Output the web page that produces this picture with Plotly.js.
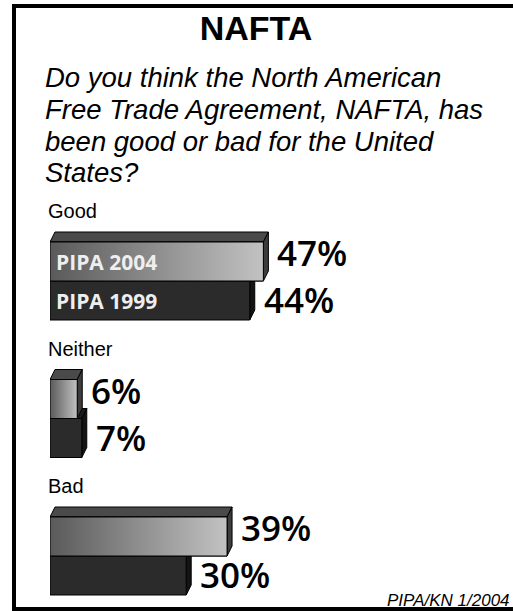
<!DOCTYPE html>
<html><head><meta charset="utf-8">
<script src="https://cdn.plot.ly/plotly-3.0.1.min.js"></script>
<style>html,body{margin:0;padding:0;background:#fff;overflow:hidden}#chart{width:513px;height:611px}</style>
</head><body><div id="chart"></div>
<script>
// ---- data ----
const categories = ['Good', 'Neither', 'Bad'];
const seriesNames = ['PIPA 2004', 'PIPA 1999'];
const pipa2004 = [47, 6, 39];
const pipa1999 = [44, 7, 30];
const labels2004 = ['47%', '6%', '39%'];
const labels1999 = ['44%', '7%', '30%'];
const titleText = 'NAFTA';
const questionLines = ['Do you think the North American', 'Free Trade Agreement, NAFTA, has', 'been good or bad for the United', 'States?'];
const sourceText = 'PIPA/KN 1/2004';

// ---- geometry / style ----
const W = 513, H = 611, mL = 50, mR = 8, mT = 195, mB = 11;
const plotW = W - mL - mR, plotH = H - mT - mB;
const pxPerPct = 4.54, pxPerCat = 137.5;
const xMax = plotW / pxPerPct;
const yTopVal = -(281 - mT) / pxPerCat;
const yBotVal = yTopVal + plotH / pxPerCat;
const barW = 39 / pxPerCat;
const dX = 5 / pxPerPct, dY = 10 / pxPerCat;
const pos = categories.map((c, i) => i);
const px2paperX = p => (p - mL) / plotW;
const px2paperY = p => (H - mB - p) / plotH;

const traces = [
  { type: 'bar', orientation: 'h', name: seriesNames[0], y: pos, x: pipa2004,
    marker: { color: '#8e8e8e', line: { color: '#000', width: 1 } }, hoverinfo: 'x+name' },
  { type: 'bar', orientation: 'h', name: seriesNames[1], y: pos, x: pipa1999,
    marker: { color: '#2b2b2b', line: { color: '#000', width: 1 } }, hoverinfo: 'x+name' }
];
// gradient overlay on the front faces of the 2004 bars
pipa2004.forEach((v, i) => {
  const t = pos[i] - barW, b = pos[i];
  traces.push({ type: 'scatter', mode: 'lines', x: [0, v, v, 0, 0], y: [t, t, b, b, t],
    fill: 'toself', line: { color: '#000', width: 1 },
    fillgradient: { type: 'horizontal', colorscale: [[0, '#5a5a5a'], [1, '#c2c2c2']] },
    hoverinfo: 'skip', showlegend: false });
});

const shapes = [];
function faces(v, t, b, topCol, sideCol) {
  shapes.push({ type: 'path', xref: 'x', yref: 'y', layer: 'below',
    path: `M0,${t} L${dX},${t - dY} L${v + dX},${t - dY} L${v},${t} Z`,
    fillcolor: topCol, line: { color: '#000', width: 1 } });
  shapes.push({ type: 'path', xref: 'x', yref: 'y', layer: 'below',
    path: `M${v},${t} L${v + dX},${t - dY} L${v + dX},${b - dY} L${v},${b} Z`,
    fillcolor: sideCol, line: { color: '#000', width: 1 } });
}
pipa1999.forEach((v, i) => faces(v, pos[i], pos[i] + barW, '#1c1c1c', '#141414'));
pipa2004.forEach((v, i) => faces(v, pos[i] - barW, pos[i], '#4a4a4a', '#3c3c3c'));
// frame
shapes.push({ type: 'rect', xref: 'paper', yref: 'paper', layer: 'above',
  x0: px2paperX(14), x1: px2paperX(560), y0: px2paperY(609), y1: px2paperY(6),
  line: { color: '#000', width: 4 }, fillcolor: 'rgba(0,0,0,0)' });

const annotations = [];
const valFont = { family: 'Open Sans', size: 35, color: '#000', weight: 600 };
categories.forEach((c, i) => {
  annotations.push({ x: 0, y: pos[i] - barW, xref: 'x', yref: 'y', text: c, showarrow: false,
    xanchor: 'left', yanchor: 'middle', xshift: -4, yshift: 31,
    font: { family: 'Liberation Sans', size: 20, color: '#000' } });
  annotations.push({ x: pipa2004[i], y: pos[i] - barW / 2, xref: 'x', yref: 'y', text: labels2004[i],
    showarrow: false, xanchor: 'left', yanchor: 'middle', xshift: 12, yshift: 9, font: valFont });
  annotations.push({ x: pipa1999[i], y: pos[i] + barW / 2, xref: 'x', yref: 'y', text: labels1999[i],
    showarrow: false, xanchor: 'left', yanchor: 'middle', xshift: 12, yshift: 1, font: valFont });
});
// series names inside the first group of bars
[0, 1].forEach(s => {
  annotations.push({ x: 0, y: pos[0] + (s === 0 ? -barW / 2 : barW / 2), xref: 'x', yref: 'y',
    text: seriesNames[s], showarrow: false, xanchor: 'left', yanchor: 'middle', xshift: 4,
    font: { family: 'Open Sans', size: 21, color: '#eeeeee', weight: 700 } });
});
// question, one line each
questionLines.forEach((line, k) => {
  annotations.push({ x: px2paperX(43), y: px2paperY(78 + 31.5 * k), xref: 'paper', yref: 'paper',
    text: '<i>' + line + '</i>', showarrow: false, align: 'left',
    xanchor: 'left', yanchor: 'middle', font: { family: 'Liberation Sans', size: 27.5, color: '#000' } });
});
// source
annotations.push({ x: px2paperX(512), y: px2paperY(612), xref: 'paper', yref: 'paper',
  text: '<i>' + sourceText + '</i>', showarrow: false, xanchor: 'right', yanchor: 'bottom',
  font: { family: 'Liberation Sans', size: 17, color: '#000' } });

const layout = {
  width: W, height: H, margin: { l: mL, r: mR, t: mT, b: mB, pad: 0 },
  paper_bgcolor: '#fff', plot_bgcolor: 'rgba(0,0,0,0)', showlegend: false,
  barmode: 'group', bargap: 1 - 2 * barW, bargroupgap: 0,
  title: { text: '<b>' + titleText + '</b>', xref: 'container', yref: 'container', x: 256 / W, xanchor: 'center',
    y: 1 - 28 / H, yanchor: 'middle', font: { family: 'Liberation Sans', size: 34, color: '#000' } },
  xaxis: { range: [0, xMax], visible: false, fixedrange: true },
  yaxis: { range: [yBotVal, yTopVal], visible: false, fixedrange: true },
  shapes: shapes, annotations: annotations
};
Plotly.newPlot('chart', traces, layout, { displayModeBar: false, staticPlot: true });
</script></body></html>
